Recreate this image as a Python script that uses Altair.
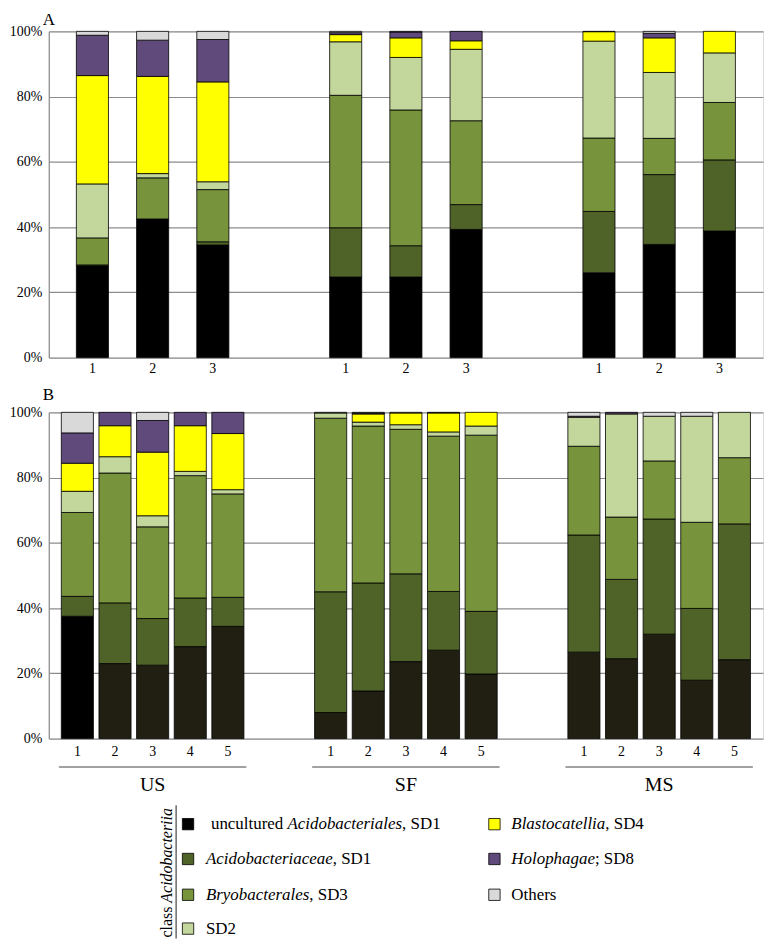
import altair as alt
import pandas as pd

SERIF = "Liberation Serif, Times New Roman, serif"

# ---------------- data ----------------
categories = ["uncultured Acidobacteriales, SD1", "Acidobacteriaceae, SD1", "Bryobacterales, SD3",
              "SD2", "Blastocatellia, SD4", "Holophagae; SD8", "Others"]
palette = ["#000000", "#4f6228", "#77933c", "#c3d69b", "#ffff00", "#604a7b", "#d9d9d9"]

a_groups = ["G1", "G2", "G3"]
a_samples = ["1", "2", "3"]
b_groups = ["US", "SF", "MS"]
b_samples = ["1", "2", "3", "4", "5"]

# Panel A (9 bars: 3 groups x 3 samples), percent
a_uncultured = [28.2, 42.5, 34.5, 24.7, 24.7, 39.3, 26.0, 34.7, 38.8]
a_acidobacteriaceae = [0.3, 0.0, 1.0, 15.1, 9.6, 7.6, 18.8, 21.4, 21.8]
a_bryobacterales = [8.3, 12.6, 16.0, 40.6, 41.6, 25.7, 22.5, 11.1, 17.6]
a_sd2 = [16.6, 1.3, 2.4, 16.4, 16.1, 21.9, 29.7, 20.2, 15.2]
a_blastocatellia = [33.3, 29.8, 30.6, 2.2, 6.0, 2.6, 2.9, 10.6, 6.6]
a_holophagae = [12.4, 11.1, 13.0, 0.6, 1.8, 2.9, 0.0, 1.4, 0.0]
a_others = [1.2, 2.7, 2.5, 0.4, 0.2, 0.0, 0.1, 0.6, 0.0]

# Panel B (15 bars: US, SF, MS x 5 samples), percent
b_uncultured = [37.5, 23.0, 22.5, 28.2, 34.4, 8.0, 14.6, 23.6, 27.1, 19.8, 26.5, 24.5, 32.0, 17.9, 24.2]
b_acidobacteriaceae = [6.1, 18.6, 14.3, 14.9, 8.9, 37.0, 33.1, 26.9, 18.0, 19.2, 35.9, 24.3, 35.3, 22.0, 41.6]
b_bryobacterales = [25.7, 39.8, 28.1, 37.5, 31.7, 53.2, 48.1, 44.3, 47.6, 54.0, 27.2, 19.1, 17.8, 26.4, 20.3]
b_sd2 = [6.5, 5.0, 3.4, 1.3, 1.3, 1.6, 1.2, 1.4, 1.3, 2.8, 8.9, 31.6, 13.7, 32.5, 13.9]
b_blastocatellia = [8.6, 9.5, 19.5, 14.0, 17.2, 0.0, 2.5, 3.6, 5.8, 4.2, 0.0, 0.0, 0.0, 0.0, 0.0]
b_holophagae = [9.3, 4.1, 9.7, 4.1, 6.5, 0.0, 0.3, 0.0, 0.2, 0.0, 0.3, 0.5, 0.0, 0.0, 0.0]
b_others = [6.3, 0.0, 2.5, 0.0, 0.0, 0.2, 0.2, 0.2, 0.0, 0.0, 1.2, 0.0, 1.2, 1.2, 0.0]

a_series = [a_uncultured, a_acidobacteriaceae, a_bryobacterales, a_sd2, a_blastocatellia, a_holophagae, a_others]
b_series = [b_uncultured, b_acidobacteriaceae, b_bryobacterales, b_sd2, b_blastocatellia, b_holophagae, b_others]

# legend text pieces (regular prefix, italic part, regular suffix)
legend_pre = ["uncultured ", "", "", "SD2", "", "", "Others"]
legend_ital = ["Acidobacteriales", "Acidobacteriaceae", "Bryobacterales", "", "Blastocatellia", "Holophagae", ""]
legend_post = [", SD1", ", SD1", ", SD3", "", ", SD4", "; SD8", ""]


def build(panel, groups, samples, series, gf, sf):
    rows = []
    n = len(samples)
    for ci, (cat, vals) in enumerate(zip(categories, series)):
        for k, v in enumerate(vals):
            if v <= 0:
                continue
            rows.append({gf: groups[k // n], sf: samples[k % n], "category": cat, "ord": ci, "value": v,
                         "shade": 1 if (panel == "B" and ci == 0 and k > 0) else 0})
    return pd.DataFrame(rows)


df_a = build("A", a_groups, a_samples, a_series, "group_a", "sample_a")
df_b = build("B", b_groups, b_samples, b_series, "group_b", "sample_b")

# ---------------- layout ----------------
W, H = 718, 328
color_scale = alt.Scale(domain=categories, range=palette)


def panel(df, groups, samples, gf, sf, letter, show_groups, pin, pout):
    xs = alt.Scale(domain=groups, paddingInner=0.26, paddingOuter=0.04)
    xo = alt.Scale(domain=samples, paddingInner=pin, paddingOuter=pout)
    if show_groups:
        xaxis = alt.Axis(title=None, ticks=False, domain=False, labelFont=SERIF, labelFontSize=20,
                         labelColor="black", labelPadding=36, labelAngle=0, grid=False)
    else:
        xaxis = alt.Axis(title=None, ticks=False, domain=False, labels=False, grid=False)
    yaxis = alt.Axis(format="%", values=[0, 0.2, 0.4, 0.6, 0.8, 1.0], title=None, grid=True,
                     gridColor="#8c8c8c", gridWidth=1.2, domainColor="#8c8c8c", domainWidth=1.2,
                     ticks=False, labelFont=SERIF, labelFontSize=14, labelColor="black", labelPadding=7)
    bars = alt.Chart(df).mark_bar(stroke="black", strokeWidth=0.8).encode(
        x=alt.X(f"{gf}:N", scale=xs, axis=xaxis, sort=groups),
        xOffset=alt.XOffset(f"{sf}:N", scale=xo, sort=samples),
        y=alt.Y("value:Q", stack="normalize", axis=yaxis, scale=alt.Scale(domain=[0, 1])),
        color=alt.condition("datum.shade == 1", alt.value("#211e12"),
                            alt.Color("category:N", scale=color_scale, legend=None)),
        order=alt.Order("ord:Q"),
    )
    tick_df = pd.DataFrame([(g, s) for g in groups for s in samples], columns=[gf, sf])
    ticks = alt.Chart(tick_df).mark_text(font=SERIF, fontSize=14, baseline="middle", color="black").encode(
        x=alt.X(f"{gf}:N", scale=xs, sort=groups),
        xOffset=alt.XOffset(f"{sf}:N", scale=xo, sort=samples),
        y=alt.value(H + (13 if show_groups else 11)),
        text=f"{sf}:N",
    )
    title = alt.Chart(pd.DataFrame({"t": [letter]})).mark_text(
        font=SERIF, fontSize=17, align="left", baseline="middle", color="black").encode(
        x=alt.value(-6), y=alt.value(-11 if letter == "A" else -17), text="t:N")
    layers = [bars, ticks, title]
    if show_groups:
        line = alt.Chart(pd.DataFrame({gf: groups})).mark_bar(color="#444444").encode(
            x=alt.X(f"{gf}:N", scale=xs, sort=groups),
            y=alt.value(H + 28), y2=alt.value(H + 29))
        layers.append(line)
    return alt.layer(*layers).properties(width=W, height=H)


panel_a = panel(df_a, a_groups, a_samples, "group_a", "sample_a", "A", False, 0.467, 0.29)
panel_b = panel(df_b, b_groups, b_samples, "group_b", "sample_b", "B", True, 0.147, 0.064)

# ---------------- custom legend ----------------
TR = {' ': 250, ',': 250, ';': 278, '1': 500, '2': 500, '3': 500, '4': 500, '8': 500, 'S': 556, 'D': 722,
      'O': 722, 'a': 444, 'c': 444, 'd': 500, 'e': 444, 'h': 500, 'l': 278, 'n': 500, 'r': 333, 's': 389,
      't': 278, 'u': 500}
TI = {'A': 611, 'B': 611, 'H': 722, 'a': 500, 'b': 500, 'c': 444, 'd': 500, 'e': 444, 'g': 500, 'h': 500,
      'i': 278, 'l': 278, 'o': 500, 'p': 500, 'r': 389, 's': 389, 't': 278, 'y': 444}
FS = 17
VFS = 16


def tw(s, italic=False, fs=FS):
    m = TI if italic else TR
    return sum(m.get(c, 500) for c in s) * fs / 1000.0


LH = 135
col_sw = [140, 448]
col_tx = [158, 465]
row_y = [20, 55, 91, 125]
leg_rows = []
for i, cat in enumerate(categories):
    col = 0 if i < 4 else 1
    row = i if i < 4 else i - 4
    x0 = col_tx[col] + (5 if i == 0 else 0)
    leg_rows.append(dict(category=cat, sw=col_sw[col], y=row_y[row],
                         pre=legend_pre[i], ital=legend_ital[i], post=legend_post[i],
                         xp=x0, xi=x0 + tw(legend_pre[i]),
                         xq=x0 + tw(legend_pre[i]) + tw(legend_ital[i], True)))
leg_df = pd.DataFrame(leg_rows)

lx = alt.Scale(domain=[0, W], nice=False, zero=False)
ly = alt.Scale(domain=[0, LH], reverse=True, nice=False, zero=False)

sw = alt.Chart(leg_df).mark_square(size=130, stroke="black", strokeWidth=0.8, opacity=1).encode(
    x=alt.X("sw:Q", scale=lx, axis=None), y=alt.Y("y:Q", scale=ly, axis=None),
    color=alt.Color("category:N", scale=color_scale, legend=None))


def piece(field, xfield, italic):
    return alt.Chart(leg_df).mark_text(font=SERIF, fontSize=FS, align="left", baseline="middle",
                                       color="black", fontStyle="italic" if italic else "normal").encode(
        x=alt.X(f"{xfield}:Q", scale=lx, axis=None), y=alt.Y("y:Q", scale=ly, axis=None),
        text=f"{field}:N")


vt_df = pd.DataFrame({"t": ["class ", "Acidobacteriia"], "vx": [119, 119],
                      "vy": [LH - 1, LH - 1 - tw("class ", fs=VFS)]})
vt_reg = alt.Chart(vt_df.iloc[[0]]).mark_text(font=SERIF, fontSize=VFS, angle=270, align="left",
                                               baseline="middle", color="black").encode(
    x=alt.X("vx:Q", scale=lx, axis=None), y=alt.Y("vy:Q", scale=ly, axis=None), text="t:N")
vt_it = alt.Chart(vt_df.iloc[[1]]).mark_text(font=SERIF, fontSize=VFS, angle=270, align="left",
                                              baseline="middle", color="black", fontStyle="italic").encode(
    x=alt.X("vx:Q", scale=lx, axis=None), y=alt.Y("vy:Q", scale=ly, axis=None), text="t:N")
rule_df = pd.DataFrame({"rx": [128.0], "ry": [1.0], "ry2": [float(LH)]})
vrule = alt.Chart(rule_df).mark_rule(color="#444444", strokeWidth=1.2).encode(
    x=alt.X("rx:Q", scale=lx, axis=None), y=alt.Y("ry:Q", scale=ly, axis=None), y2=alt.Y2("ry2:Q"))

legend = alt.layer(sw, piece("pre", "xp", False), piece("ital", "xi", True), piece("post", "xq", False),
                   vt_reg, vt_it, vrule).properties(width=W, height=LH,
                                                    view=alt.ViewBackground(strokeWidth=0, stroke="transparent"))

chart = alt.vconcat(panel_a, panel_b, legend, spacing=9).resolve_scale(
    x="independent", xOffset="independent", y="independent"
).properties(
    padding={"left": 0, "top": 0, "right": 0, "bottom": 0}
).configure_view(stroke="transparent", strokeWidth=0).configure(background="white")

chart.save("out.html", embed_options={"renderer": "svg", "actions": False})
